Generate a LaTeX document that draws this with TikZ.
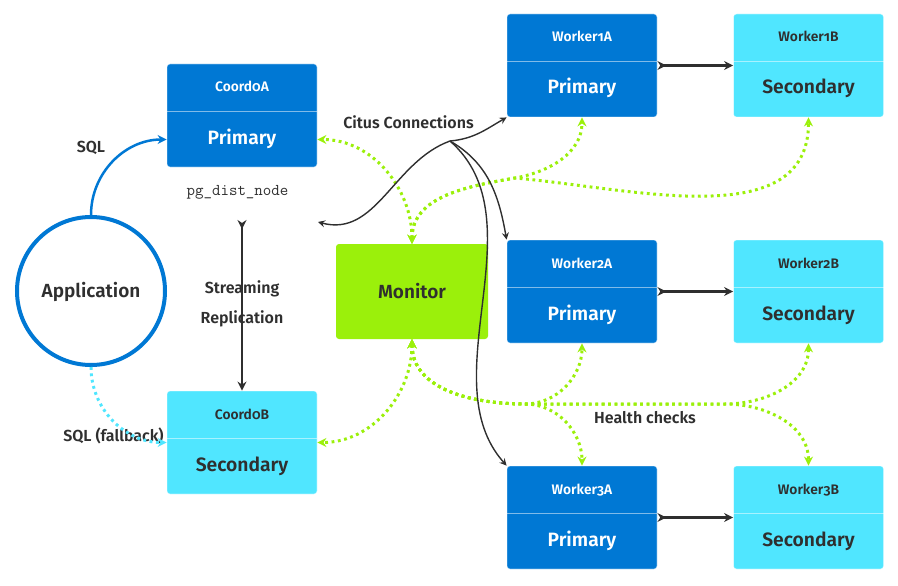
\documentclass[tikz,border=0pt]{standalone}
\usepackage{fontspec}
\setmainfont{Fira Sans}[Numbers=OldStyle, BoldFont={Fira Sans SemiBold}]
\usetikzlibrary{arrows.meta,calc}
\definecolor{msblue}{HTML}{0078D4}
\definecolor{mscyan}{HTML}{50E6FF}
\definecolor{msgreen}{HTML}{9BF00B}
\definecolor{ink}{HTML}{2F2F2F}
\newcommand\dbbox[7]{%
  \node[boxbase, fill=#6] (#1) at (#2,{-(#3)-51.5}) {};
  \draw[divider] ($(#1.west)+(0,4.5)$) -- ($(#1.east)+(0,4.5)$);
  \node[hdr, text=#7] (#1h) at (#2,{-(#3)-28}) {#4};
  \node[bdy, text=#7] (#1b) at (#2,{-(#3)-80}) {#5};
}
\tikzset{
  boxbase/.style={rectangle, rounded corners=3pt, minimum width=150pt, minimum height=103pt,
    inner sep=0pt, draw=white, draw opacity=0.45, line width=0.8pt},
  divider/.style={draw=white, draw opacity=0.5, line width=0.8pt},
  hdr/.style={anchor=base, inner sep=0pt, font=\fontsize{13.8}{16}\selectfont\bfseries},
  bdy/.style={anchor=base, inner sep=0pt, font=\fontsize{19.3}{23}\selectfont\bfseries},
  lbl/.style={anchor=base, inner sep=0pt, text=ink, font=\fontsize{16}{19}\selectfont\bfseries},
  repl/.style={ink, line width=2.6pt, {Stealth[reversed,length=9pt,width=9pt]}-{Stealth[length=9pt,width=9pt]}},
  citus/.style={ink, line width=1.4pt, -{Stealth[length=7pt,width=7pt,inset=2.5pt]}},
  health/.style={msgreen, line width=3pt, dash pattern=on 2.8pt off 3.6pt,
    {Stealth[length=9pt,width=9pt]}-{Stealth[length=9pt,width=9pt]}},
  sqlarrow/.style={msblue, line width=2.5pt, -{Stealth[length=9pt,width=9pt]}},
  fallback/.style={mscyan, line width=3pt, dash pattern=on 2.8pt off 3.6pt, -{Stealth[length=9pt,width=9pt]}},
}
\begin{document}
\begin{tikzpicture}[x=1pt,y=1pt]
\useasboundingbox (0,0) rectangle (898,-586);
% application
\node[circle, draw=msblue, line width=4pt, minimum size=148pt, inner sep=0pt] (app) at (91,-291) {};
\node[anchor=base, inner sep=0pt, text=ink, font=\fontsize{19}{22}\selectfont\bfseries] (applbl) at (91,-297) {Application};
% coordinators
\dbbox{coa}{242}{64}{Coord0A}{Primary}{msblue}{white}
\dbbox{cob}{242}{391}{Coord0B}{Secondary}{mscyan}{ink}
% workers
\dbbox{w1a}{582}{14}{Worker1A}{Primary}{msblue}{white}
\dbbox{w1b}{808.5}{14}{Worker1B}{Secondary}{mscyan}{ink}
\dbbox{w2a}{582}{240}{Worker2A}{Primary}{msblue}{white}
\dbbox{w2b}{808.5}{240}{Worker2B}{Secondary}{mscyan}{ink}
\dbbox{w3a}{582}{466}{Worker3A}{Primary}{msblue}{white}
\dbbox{w3b}{808.5}{466}{Worker3B}{Secondary}{mscyan}{ink}
% monitor
\node[rectangle, rounded corners=3pt, fill=msgreen, minimum width=152pt, minimum height=95pt, inner sep=0pt] (mon) at (412,-291.5) {};
\node[anchor=base, inner sep=0pt, text=ink, font=\fontsize{19}{22}\selectfont\bfseries] (monlbl) at (412,-298) {Monitor};
% labels
\node[anchor=base, inner sep=0pt, text=ink, font=\fontsize{16.5}{18}\selectfont\ttfamily] (pgdist) at (237.5,-195.5) {pg\_dist\_node};
\node[lbl] (sqllbl) at (91,-153) {SQL};
\node[lbl] (fblbl) at (113.5,-441) {SQL (fallback)};
\node[lbl] (citlbl) at (408.5,-128.5) {Citus Connections};
\node[lbl] (hclbl) at (645,-423.3) {Health checks};
\node[lbl] (strlbl) at (242,-293.3) {Streaming};
\node[lbl] (repllbl) at (242,-323.3) {Replication};
% coordinates
\coordinate (hub) at (450,-141);
\coordinate (pgend) at (318,-222);
\coordinate (strtop) at (242,-220);
\coordinate (hT) at (515,-178);
\coordinate (hL) at (525,-404);
\coordinate (hR) at (725,-404);
% SQL arrows
\draw[sqlarrow] (app.north) to[out=90,in=180] ($(coa.west)+(0,-24)$);
\draw[fallback] (app.south) to[out=-90,in=180] (cob.west);
% replication
\draw[repl] (strtop) -- (cob.north);
\draw[repl] (w1a.east) -- (w1b.west);
\draw[repl] (w2a.east) -- (w2b.west);
\draw[repl] (w3a.east) -- (w3b.west);
% health checks
\draw[health] (mon.north) to[out=90,in=0] ($(coa.east)+(0,-24)$);
\draw[health] (mon.north) to[out=90,in=190] (hT) to[out=10,in=-90] (w1a.south);
\draw[health] (mon.north) to[out=90,in=190] (hT) to[out=-5,in=-90] (w1b.south);
\draw[health] (mon.south) to[out=-90,in=0] (cob.east);
\draw[health] (mon.south) to[out=-90,in=180] (hL) to[out=0,in=-90] (w2a.south);
\draw[health] (mon.south) to[out=-90,in=180] (hL) to[out=0,in=90] (w3a.north);
\draw[health] (mon.south) to[out=-90,in=180] (hL) -- (hR) to[out=0,in=-90] (w2b.south);
\draw[health] (mon.south) to[out=-90,in=180] (hL) -- (hR) to[out=0,in=90] (w3b.north);
% citus connections
\draw[citus] (hub) to[out=200,in=-15] (pgend);
\draw[citus] (hub) to[out=5,in=210] (w1a.south west);
\draw[citus] (hub) to[out=-30,in=100] (w2a.north west);
\draw[citus] (hub) .. controls +(90,-79) and +(-77,86) .. (w3a.north west);
\end{tikzpicture}
\end{document}
